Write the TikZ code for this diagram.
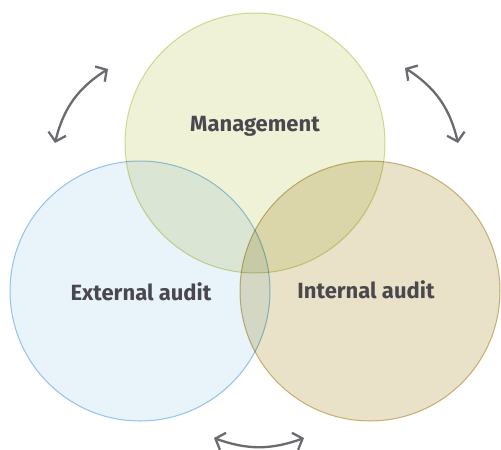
\documentclass[tikz,border=0pt]{standalone}
\usepackage{fontspec}
\setmainfont{Fira Sans}
\usetikzlibrary{arrows.meta}
\definecolor{mgmtfill}{HTML}{F0F2D8}
\definecolor{mgmtline}{HTML}{D8DE9C}
\definecolor{extfill}{HTML}{E8F3FA}
\definecolor{extline}{HTML}{9CC8EC}
\definecolor{intfill}{HTML}{E9E2C8}
\definecolor{intline}{HTML}{CFBB80}
\definecolor{arrowgrey}{HTML}{6B6A6E}
\definecolor{labelgrey}{HTML}{4A484E}
\tikzset{
  label/.style={font=\fontsize{22}{26}\selectfont\bfseries, text=labelgrey},
  link/.style={draw=arrowgrey, line width=2.3pt, {Straight Barb[length=8pt,width=18pt]}-{Straight Barb[length=8pt,width=18pt]}}
}
\begin{document}
\begin{tikzpicture}[x=1pt,y=-1pt]
                \useasboundingbox (0,0) rectangle (501,450);
                \begin{scope}[blend group=multiply]
                \draw [fill=mgmtfill, draw=mgmtline] (255,143) circle (130pt);
                \draw [fill=extfill, draw=extline] (140,291) circle (130pt);
                \draw [fill=intfill, draw=intline] (370,291) circle (130pt);
                \end{scope}
                \node [label] (mgmt) at (255,126) {Management};
                \node [label] (ext) at (141,292) {External audit};
                \node [label] (int) at (366,290) {Internal audit};
                \coordinate (ml) at (108,69);
                \coordinate (el) at (55,143);
                \coordinate (mr) at (405,68);
                \coordinate (ir) at (458,143);
                \coordinate (eb) at (214,438);
                \coordinate (ib) at (304,438);
                \draw [link] (el) to [bend left=22] (ml);
                \draw [link] (mr) to [bend left=22] (ir);
                \draw [link] (eb) to [bend right=20] (ib);
            \end{tikzpicture}
\end{document}
